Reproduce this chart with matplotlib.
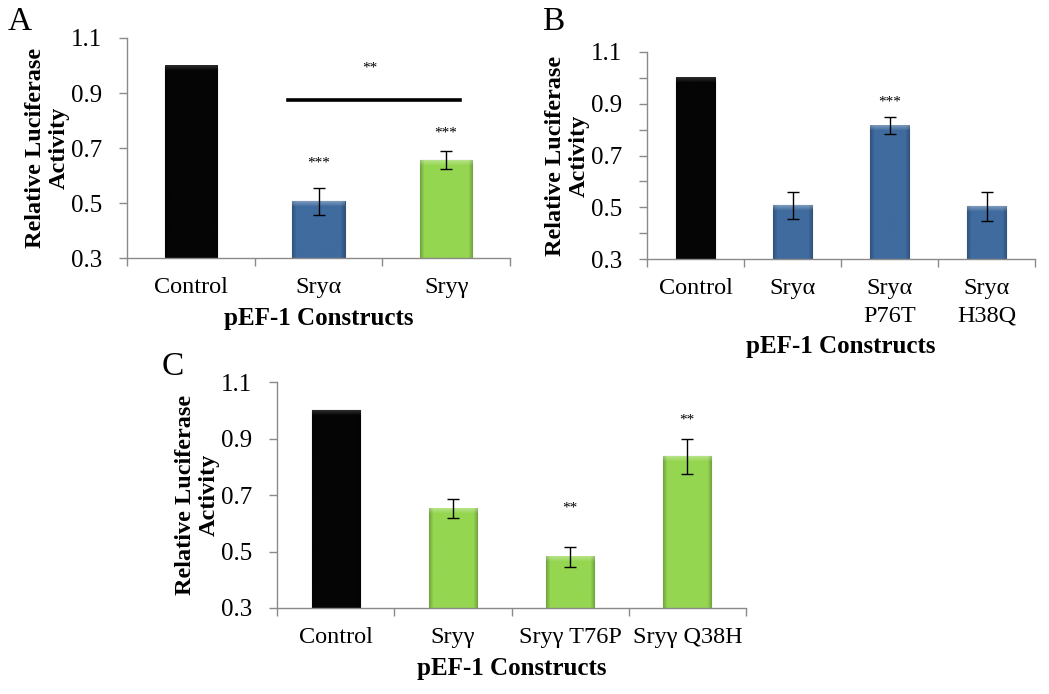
import numpy as np
import matplotlib
matplotlib.use("Agg")
import matplotlib.pyplot as plt
import matplotlib.colors as mcolors

plt.rcParams['font.family'] = ['Liberation Serif', 'DejaVu Serif']

# data
a_labels = ['Control', 'Sryα', 'Sryγ']
a_values = [1.0, 0.506, 0.655]
a_err = [0.0, 0.05, 0.033]
a_colors = ['black', 'blue', 'green']

b_labels = ['Control', 'Sryα', 'Sryα\nP76T', 'Sryα\nH38Q']
b_values = [1.0, 0.507, 0.815, 0.503]
b_err = [0.0, 0.052, 0.033, 0.055]
b_colors = ['black', 'blue', 'blue', 'blue']

c_labels = ['Control', 'Sryγ', 'Sryγ T76P', 'Sryγ Q38H']
c_values = [1.0, 0.652, 0.481, 0.837]
c_err = [0.0, 0.033, 0.036, 0.062]
c_colors = ['black', 'green', 'green', 'green']

palette = {'black': '#050505', 'blue': '#3f6b9f', 'green': '#95d651'}

W, H = 1049, 694
fig = plt.figure(figsize=(W / 100, H / 100), dpi=100)


def px_axes(left, right, top, bottom):
    return fig.add_axes([left / W, 1 - bottom / H, (right - left) / W, (bottom - top) / H])


def bevel(ax, bars, colors):
    # excel-style shading: darker sides, light strip on top
    for bar, c in zip(bars, colors):
        base = np.array(mcolors.to_rgb(palette[c]))
        x0, y0 = bar.get_x(), bar.get_y()
        w, h = bar.get_width(), bar.get_height()
        p0 = ax.transData.transform((x0, y0))
        p1 = ax.transData.transform((x0 + w, y0 + h))
        nx, ny = max(int(p1[0] - p0[0]), 2), max(int(p1[1] - p0[1]), 2)
        img = np.tile(base, (ny, nx, 1))
        xs = np.arange(nx)
        edge = np.minimum(xs, nx - 1 - xs)
        side = np.clip(1 - edge / 4.0, 0, 1)
        img = img * (1 - 0.22 * side)[None, :, None]
        ys = np.arange(ny)
        top = np.clip(1 - ys / 5.0, 0, 1)
        light = 0.3 if c != 'black' else 0.15
        img = img + (1 - img) * light * top[:, None, None]
        ax.imshow(np.clip(img, 0, 1), extent=(x0, x0 + w, y0, y0 + h), aspect='auto',
                  origin='upper', zorder=2, clip_path=bar, interpolation='bilinear')


def panel(ax, labels, values, err, colors, minor_y=False):
    n = len(labels)
    x = np.arange(n)
    ax.set_xlim(-0.5, n - 0.5)
    ax.set_ylim(0.3, 1.1)
    edges = [mcolors.to_rgb(palette[c]) for c in colors]
    edges = [tuple(v * 0.8 for v in e) for e in edges]
    bars = ax.bar(x, [v - 0.3 for v in values], bottom=0.3, width=0.41,
                  color=[palette[c] for c in colors], edgecolor=edges, linewidth=0.8, zorder=1)
    ax.errorbar(x[1:], values[1:], yerr=err[1:], fmt='none', ecolor='black',
                elinewidth=1, capsize=4, capthick=1, zorder=3)
    ax.set_xlim(-0.5, n - 0.5)
    ax.set_ylim(0.3, 1.1)
    bevel(ax, bars, colors)

    for s in ['top', 'right']:
        ax.spines[s].set_visible(False)
    for s in ['left', 'bottom']:
        ax.spines[s].set_color('#8a8a8a')
        ax.spines[s].set_linewidth(1)

    ax.set_yticks([0.3, 0.5, 0.7, 0.9, 1.1])
    ax.set_yticklabels(['0.3', '0.5', '0.7', '0.9', '1.1'])
    if minor_y:
        ax.set_yticks([0.4, 0.6, 0.8, 1.0], minor=True)
    ax.tick_params(axis='y', which='both', direction='out', length=6, width=1,
                   color='#8a8a8a', labelsize=18, pad=12)

    ax.set_xticks(x)
    ax.set_xticklabels(labels, fontsize=17.5, linespacing=1.4)
    ax.set_xticks(np.arange(n + 1) - 0.5, minor=True)
    ax.tick_params(axis='x', which='major', length=0, pad=14)
    ax.tick_params(axis='x', which='minor', direction='out', length=6, width=1, color='#8a8a8a')

    ax.set_xlabel('pEF-1 Constructs', fontsize=18, fontweight='bold', labelpad=6)
    ax.set_ylabel('Relative Luciferase\nActivity', fontsize=17.5, fontweight='bold',
                  labelpad=1, linespacing=1.12)


# panel A
axA = px_axes(127, 510, 38, 258)
panel(axA, a_labels, a_values, a_err, a_colors)
axA.plot([0.76, 2.11], [0.876, 0.876], color='black', lw=2.6, zorder=3)
axA.text(1.4, 0.99, '**', ha='center', va='center', fontsize=11)
axA.text(1, 0.645, '***', ha='center', va='center', fontsize=11)
axA.text(2, 0.755, '***', ha='center', va='center', fontsize=11)

# panel B
axB = px_axes(647, 1035, 52, 259)
panel(axB, b_labels, b_values, b_err, b_colors, minor_y=True)
axB.text(2, 0.905, '***', ha='center', va='center', fontsize=11)

# panel C
axC = px_axes(277, 746, 382, 608)
panel(axC, c_labels, c_values, c_err, c_colors)
axC.text(2, 0.655, '**', ha='center', va='center', fontsize=11)
axC.text(3, 0.967, '**', ha='center', va='center', fontsize=11)

fig.text(20 / W, 1 - 22 / H, 'A', fontsize=24, ha='center', va='center')
fig.text(553 / W, 1 - 22 / H, 'B', fontsize=24, ha='center', va='center')
fig.text(173 / W, 1 - 367 / H, 'C', fontsize=24, ha='center', va='center')

fig.savefig('out.png', dpi=100)
